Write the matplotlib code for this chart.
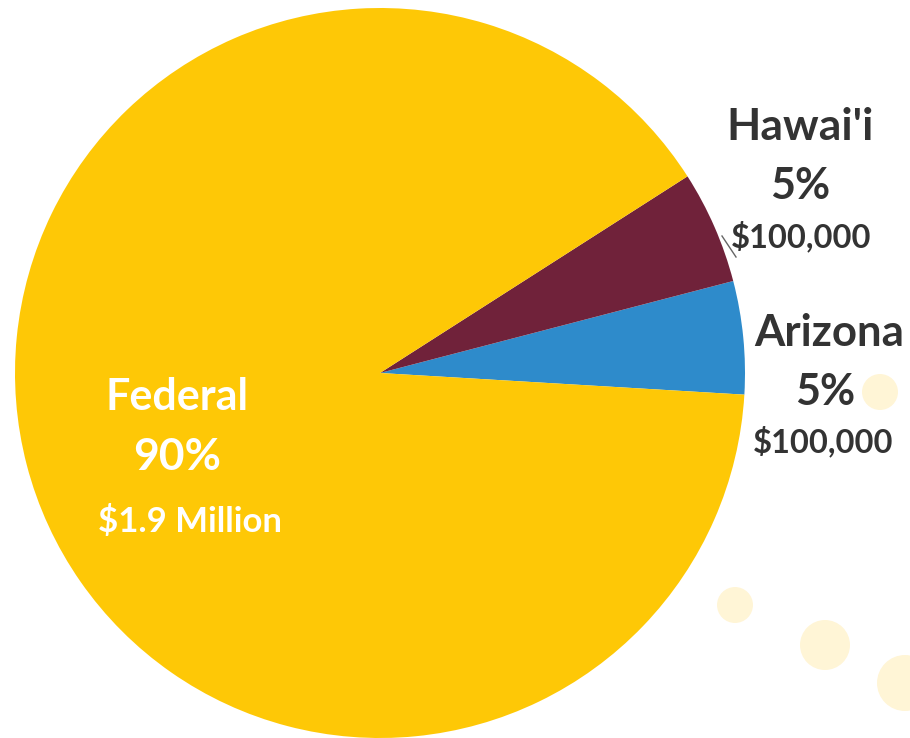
import matplotlib
matplotlib.use("Agg")
import matplotlib.pyplot as plt
from matplotlib.patches import Circle

labels = ["Arizona", "Hawai'i", "Federal"]
shares = [5, 5, 90]
amounts = ["$100,000", "$100,000", "$1.9 Million"]
colors = ["#2E8BCB", "#70223A", "#FEC806"]

W, H = 910, 738
cx, cy, R = 380, 373, 365

fig = plt.figure(figsize=(W / 100, H / 100), dpi=100)
ax = fig.add_axes([0, 0, 1, 1])

# faint decorative circles
for (px, py, pr) in [(880, 392, 18), (735, 605, 18), (825, 645, 25), (905, 683, 28)]:
    ax.add_patch(Circle(((px - cx) / R, (cy - py) / R), pr / R, color="#FFF5D6", zorder=0, lw=0))

ax.pie(shares, colors=colors, startangle=-3.4, counterclock=True, radius=1.0,
       center=(0, 0), wedgeprops=dict(linewidth=0), frame=True)
ax.set_xlim(-cx / R, (W - cx) / R)
ax.set_ylim(-(H - cy) / R, cy / R)
ax.set_aspect("equal")
ax.axis("off")

def P(px, py):
    return ((px - cx) / R, (cy - py) / R)

fam = ["Lato", "DejaVu Sans"]
dark = "#333333"

# Hawai'i
ax.text(*P(800, 127), labels[1], ha="center", va="center", fontsize=32, fontweight="bold", color=dark, family=fam)
ax.text(*P(800, 186), f"{shares[1]}%", ha="center", va="center", fontsize=31, fontweight="bold", color=dark, family=fam)
ax.text(*P(801, 236), amounts[1], ha="center", va="center", fontsize=23.5, fontweight="bold", color=dark, family=fam)
ax.plot([(722 - cx) / R, (736 - cx) / R], [(cy - 236) / R, (cy - 257) / R], color="#666666", lw=1)

# Arizona
ax.text(*P(829, 333), labels[0], ha="center", va="center", fontsize=31.5, fontweight="bold", color=dark, family=fam)
ax.text(*P(825, 392), f"{shares[0]}%", ha="center", va="center", fontsize=31, fontweight="bold", color=dark, family=fam)
ax.text(*P(823, 441), amounts[0], ha="center", va="center", fontsize=23.5, fontweight="bold", color=dark, family=fam)

# Federal
ax.text(*P(177, 397), labels[2], ha="center", va="center", fontsize=31, fontweight="bold", color="white", family=fam)
ax.text(*P(177, 457), f"{shares[2]}%", ha="center", va="center", fontsize=32, fontweight="bold", color="white", family=fam)
ax.text(*P(190, 521), amounts[2], ha="center", va="center", fontsize=25, fontweight="bold", color="white", family=fam)

fig.savefig("out.png", dpi=100)
